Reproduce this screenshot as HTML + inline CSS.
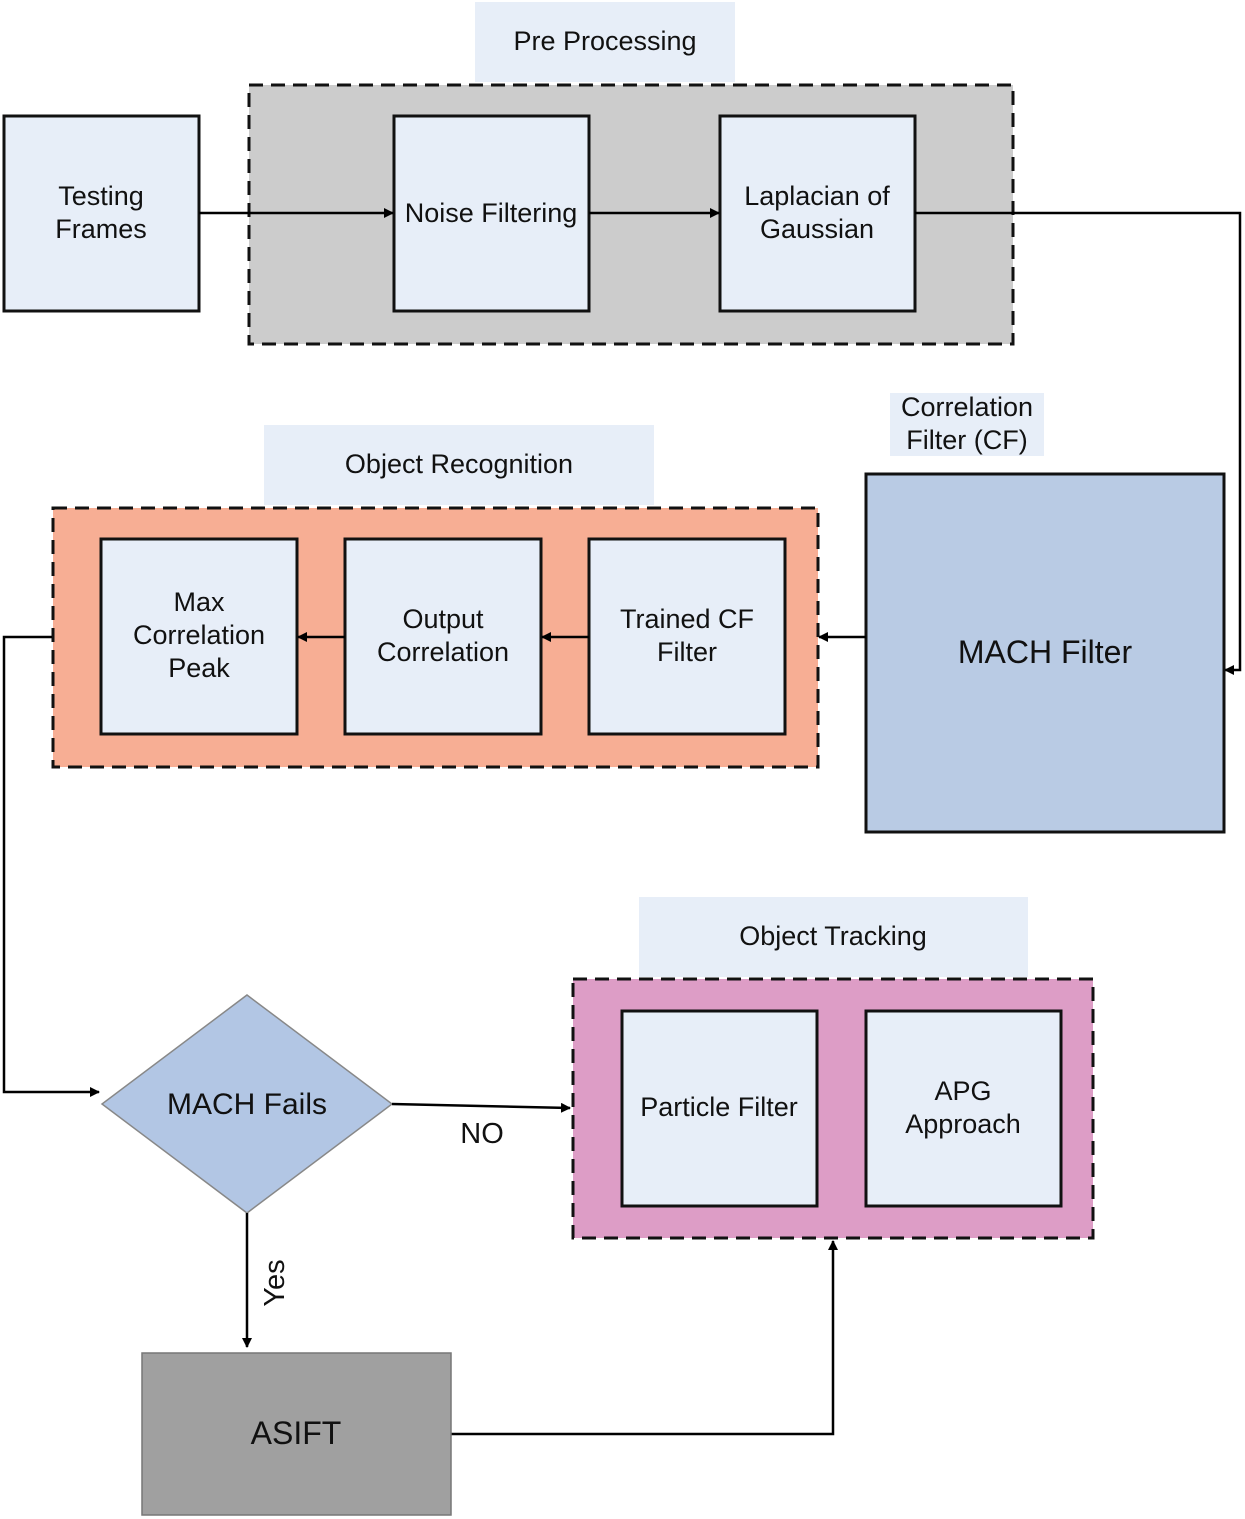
<!DOCTYPE html>
<html><head><style>body{margin:0;background:#fff}svg{display:block}text{font-family:"Liberation Sans",sans-serif;fill:#111}</style></head>
<body>
<svg width="1245" height="1519" viewBox="0 0 1245 1519" xmlns="http://www.w3.org/2000/svg">
<defs><marker id="a" markerWidth="10" markerHeight="10" refX="9" refY="5" orient="auto" markerUnits="userSpaceOnUse"><path d="M0,0 L10,5 L0,10 z" fill="#000"/></marker></defs>
<g font-size="27" text-anchor="middle">
<rect x="475" y="2" width="260" height="80" fill="#e7eef8"/>
<text x="605" y="50">Pre Processing</text>
<rect x="249" y="85" width="764" height="259" fill="#cccccc" stroke="#111" stroke-width="3" stroke-dasharray="14,8"/>
<rect x="4" y="116" width="195" height="195" fill="#e7eef8" stroke="#111" stroke-width="3"/>
<text x="101" y="205">Testing</text><text x="101" y="238">Frames</text>
<rect x="394" y="116" width="195" height="195" fill="#e7eef8" stroke="#111" stroke-width="3"/>
<text x="491" y="222">Noise Filtering</text>
<rect x="720" y="116" width="195" height="195" fill="#e7eef8" stroke="#111" stroke-width="3"/>
<text x="817" y="205">Laplacian of</text><text x="817" y="238">Gaussian</text>
<g stroke="#000" stroke-width="2.5" fill="none">
<line x1="199" y1="213" x2="393" y2="213" marker-end="url(#a)"/>
<line x1="589" y1="213" x2="719" y2="213" marker-end="url(#a)"/>
<polyline points="915,213 1240,213 1240,670 1225,670" marker-end="url(#a)"/>
</g>
<rect x="890" y="393" width="154" height="63" fill="#e7eef8"/>
<text x="967" y="416">Correlation</text><text x="967" y="449">Filter (CF)</text>
<rect x="866" y="474" width="358" height="358" fill="#b9cbe4" stroke="#111" stroke-width="3"/>
<text x="1045" y="663" font-size="32">MACH Filter</text>
<rect x="264" y="425" width="390" height="80" fill="#e7eef8"/>
<text x="459" y="473">Object Recognition</text>
<rect x="53" y="508" width="765" height="259" fill="#f7ae94" stroke="#111" stroke-width="3" stroke-dasharray="14,8"/>
<rect x="101" y="539" width="196" height="195" fill="#e7eef8" stroke="#111" stroke-width="3"/>
<text x="199" y="611">Max</text><text x="199" y="644">Correlation</text><text x="199" y="677">Peak</text>
<rect x="345" y="539" width="196" height="195" fill="#e7eef8" stroke="#111" stroke-width="3"/>
<text x="443" y="628">Output</text><text x="443" y="661">Correlation</text>
<rect x="589" y="539" width="196" height="195" fill="#e7eef8" stroke="#111" stroke-width="3"/>
<text x="687" y="628">Trained CF</text><text x="687" y="661">Filter</text>
<g stroke="#000" stroke-width="2.5" fill="none">
<line x1="866" y1="637" x2="819" y2="637" marker-end="url(#a)"/>
<line x1="589" y1="637" x2="542" y2="637" marker-end="url(#a)"/>
<line x1="345" y1="637" x2="298" y2="637" marker-end="url(#a)"/>
<polyline points="52,637 4,637 4,1092 99,1092" marker-end="url(#a)"/>
</g>
<polygon points="247,995 392,1104 247,1213 102,1104" fill="#b2c6e4" stroke="#888" stroke-width="1.5"/>
<text x="247" y="1114" font-size="30">MACH Fails</text>
<g stroke="#000" stroke-width="2.5" fill="none">
<line x1="392" y1="1104" x2="570" y2="1108" marker-end="url(#a)"/>
<line x1="247" y1="1213" x2="247" y2="1347" marker-end="url(#a)"/>
<line x1="817" y1="1108" x2="865" y2="1108" marker-end="url(#a)"/>
<polyline points="451,1434 833,1434 833,1241" marker-end="url(#a)"/>
</g>
<text x="482" y="1143" font-size="29">NO</text>
<text x="0" y="0" font-size="29" transform="translate(284,1283) rotate(-90)">Yes</text>
<rect x="639" y="897" width="389" height="80" fill="#e7eef8"/>
<text x="833" y="945">Object Tracking</text>
<rect x="573" y="979" width="520" height="259" fill="#dd9dc6" stroke="#111" stroke-width="3" stroke-dasharray="14,8"/>
<rect x="622" y="1011" width="195" height="195" fill="#e7eef8" stroke="#111" stroke-width="3"/>
<text x="719" y="1116">Particle Filter</text>
<rect x="866" y="1011" width="195" height="195" fill="#e7eef8" stroke="#111" stroke-width="3"/>
<text x="963" y="1100">APG</text><text x="963" y="1133">Approach</text>
<rect x="142" y="1353" width="309" height="162" fill="#a0a0a0" stroke="#777" stroke-width="1.5"/>
<text x="296" y="1444" font-size="32">ASIFT</text>
</g>
</svg>
</body></html>
